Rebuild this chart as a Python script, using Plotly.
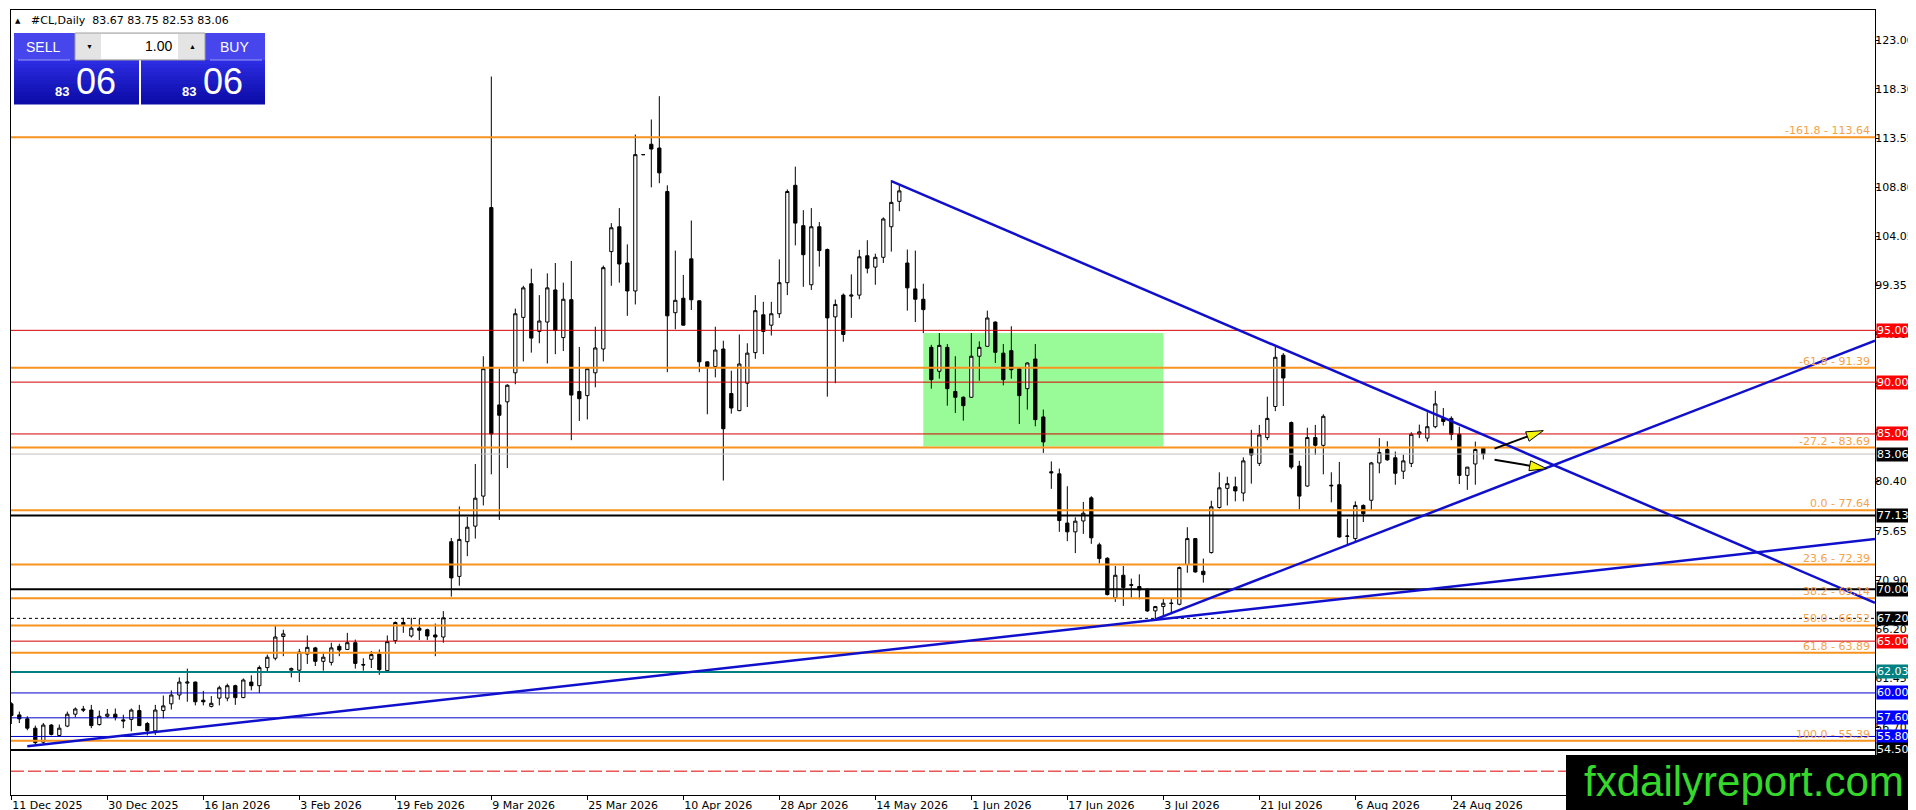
import plotly.graph_objects as go

W, H = 1916, 810
ML, MR, MT, MB = 3, 49, 2, 23
PW, PH = W - ML - MR, H - MT - MB

symbol = "#CL,Daily"

opens = [58.95, 57.88, 57.5, 56.6, 55.25, 56.9, 55.9, 56.8, 57.95, 58.45,
         58.35, 56.95, 57.75, 57.95, 57.4, 57.45, 58.3, 57.05, 56.35, 58.3,
         58.95, 59.8, 60.95, 61.05, 59.3, 58.7, 59.5, 59.5, 60.7, 59.55,
         61.05, 60.7, 62.45, 63.35, 65.45, 62.2, 62.2, 63.75, 64.35, 63.05,
         62.95, 64.5, 64.2, 64.85, 62.75, 63.25, 63.75, 62.15, 65.05, 66.8,
         65.5, 66.25, 66.1, 65.6, 65.4, 74.6, 71.25, 74.6, 76.1, 79.0,
         106.85, 87.8, 88.1, 90.9, 96.25, 99.5, 94.9, 95.8, 98.9, 94.3,
         97.96, 89.1, 88.7, 90.9, 93.2, 102.6, 105.0, 101.5, 98.8, 111.96,
         112.96, 112.6, 108.4, 96.7, 98.1, 101.9, 97.85, 91.96, 91.5, 93.2,
         88.9, 87.25, 89.9, 92.85, 96.5, 95.5, 96.6, 99.6, 109.0, 105.1,
         99.4, 105.0, 102.8, 96.3, 98.4, 98.3, 98.4, 102.2, 101.1, 102.05,
         105.0, 107.45, 101.5, 99.0, 98.0, 93.36, 91.05, 93.36, 89.1, 88.54,
         88.54, 92.5, 93.46, 95.8, 92.8, 93.04, 91.3, 89.37, 92.23, 86.64,
         81.35, 81.15, 76.4, 75.55, 76.6, 78.83, 74.3, 73.0, 69.2, 71.36,
         70.45, 70.27, 70.01, 67.92, 68.34, 68.63, 68.56, 72.4, 74.9, 71.75,
         73.55, 77.9, 79.75, 79.9, 79.3, 83.6, 82.16, 84.65, 87.65, 92.6,
         86.1, 81.9, 79.97, 84.65, 83.9, 80.05, 80.1, 75.1, 74.9, 78.1,
         78.6, 82.2, 83.5, 82.7, 81.4, 82.16, 85.0, 84.6, 85.7, 86.5,
         86.5, 84.97, 81.0, 82.1, 83.67]
highs = [59.1, 58.2, 57.75, 56.85, 57.1, 57.0, 56.95, 58.2, 58.6, 58.75,
         58.85, 58.3, 58.45, 58.5, 57.9, 58.5, 58.85, 57.2, 58.85, 59.75,
         60.25, 61.5, 62.35, 61.1, 60.2, 59.7, 60.7, 60.9, 60.8, 61.4,
         61.7, 62.65, 63.7, 66.45, 66.1, 62.45, 64.25, 65.55, 64.45, 63.8,
         64.85, 64.75, 65.8, 65.15, 63.35, 64.05, 64.2, 65.55, 66.9, 67.25,
         67.25, 67.15, 66.2, 66.7, 67.9, 74.96, 78.0, 77.0, 82.1, 92.5,
         119.5, 91.3, 89.8, 97.1, 99.3, 100.95, 98.4, 100.5, 101.5, 99.6,
         101.7, 93.4, 91.4, 95.35, 101.25, 105.35, 106.8, 103.3, 113.9, 111.96,
         115.35, 117.6, 109.0, 102.7, 100.35, 105.6, 97.9, 92.0, 95.35, 94.0,
         91.1, 94.6, 93.75, 98.4, 97.75, 97.75, 101.85, 108.6, 110.8, 106.6,
         106.8, 105.45, 102.9, 97.98, 98.56, 100.4, 102.77, 103.7, 102.4, 105.9,
         109.5, 109.0, 102.8, 102.7, 99.5, 93.6, 94.74, 93.68, 92.5, 88.63,
         94.74, 93.94, 96.9, 95.87, 93.68, 95.39, 91.35, 91.9, 93.68, 87.35,
         82.35, 81.66, 79.95, 76.96, 78.44, 78.99, 74.5, 73.1, 72.26, 72.26,
         71.04, 71.45, 70.07, 68.4, 69.1, 69.1, 72.2, 76.0, 74.95, 72.97,
         78.55, 81.3, 80.87, 80.87, 82.74, 85.4, 85.87, 88.6, 93.45, 92.8,
         86.2, 82.4, 85.6, 85.87, 86.9, 81.3, 82.3, 76.8, 78.5, 78.2,
         82.3, 84.6, 84.3, 83.3, 83.0, 85.16, 85.9, 87.1, 89.16, 87.5,
         86.7, 85.7, 81.8, 84.26, 83.75]
lows = [57.0, 57.1, 56.4, 55.0, 55.05, 55.9, 55.8, 56.7, 57.65, 58.15,
        56.6, 56.85, 57.6, 57.35, 56.6, 56.3, 56.8, 55.9, 55.95, 57.55,
        58.4, 59.35, 59.15, 58.8, 58.8, 58.6, 58.8, 59.2, 58.85, 59.5,
        60.25, 60.0, 62.0, 63.15, 63.55, 61.5, 61.05, 62.8, 62.6, 62.15,
        62.65, 63.55, 64.15, 62.35, 62.15, 62.4, 61.75, 62.05, 64.75, 65.8,
        65.35, 65.1, 65.1, 63.55, 64.85, 69.3, 70.35, 73.2, 74.9, 78.1,
        81.1, 76.7, 81.7, 89.8, 92.0, 92.85, 93.75, 91.8, 92.7, 93.0,
        84.4, 86.25, 86.4, 89.5, 92.0, 99.3, 99.6, 96.4, 97.5, 111.96,
        108.8, 109.2, 90.96, 95.1, 95.45, 96.96, 90.96, 86.9, 90.46, 80.5,
        86.96, 87.2, 87.6, 92.25, 92.7, 94.5, 96.2, 98.4, 103.2, 99.2,
        98.9, 101.15, 88.6, 89.9, 93.9, 96.2, 98.0, 100.5, 99.4, 101.5,
        102.6, 106.5, 96.9, 95.8, 94.74, 89.37, 90.34, 87.73, 87.03, 86.29,
        88.47, 90.14, 93.46, 91.85, 89.69, 90.34, 85.96, 87.35, 85.74, 83.17,
        79.7, 75.55, 74.65, 73.5, 75.35, 74.39, 72.5, 69.4, 68.79, 68.4,
        69.2, 69.04, 67.82, 67.1, 67.43, 67.6, 68.46, 71.6, 71.6, 70.65,
        73.45, 77.8, 78.1, 78.5, 78.5, 80.2, 81.9, 84.4, 87.2, 87.7,
        81.6, 77.7, 79.9, 82.97, 81.1, 78.4, 75.0, 74.2, 74.6, 76.5,
        77.6, 81.2, 82.4, 80.1, 80.65, 81.8, 84.6, 84.26, 85.55, 85.8,
        84.4, 80.16, 79.6, 80.1, 82.53]
closes = [57.82, 57.5, 56.6, 55.2, 56.9, 56.0, 56.6, 57.95, 58.45, 58.35,
          56.85, 57.75, 57.95, 57.65, 57.3, 58.35, 56.85, 56.35, 58.35, 58.75,
          59.8, 61.05, 61.05, 59.15, 59.15, 59.0, 60.5, 60.7, 59.55, 61.25,
          60.7, 62.45, 63.45, 65.4, 65.7, 62.35, 63.95, 64.4, 63.05, 63.45,
          64.35, 64.15, 64.85, 62.85, 62.7, 63.7, 62.25, 64.95, 66.8, 66.6,
          66.25, 66.05, 65.5, 65.4, 67.25, 71.1, 74.82, 76.0, 78.8, 91.3,
          85.0, 86.8, 89.7, 96.6, 99.1, 94.25, 95.9, 99.1, 95.0, 98.0,
          88.75, 88.4, 91.3, 93.3, 101.05, 104.9, 101.4, 98.8, 111.96, 111.96,
          112.5, 110.2, 96.4, 97.9, 95.5, 97.95, 91.96, 91.5, 93.1, 85.5,
          87.5, 91.75, 92.8, 96.9, 94.9, 96.6, 99.6, 108.4, 105.35, 102.3,
          105.0, 102.7, 96.2, 97.5, 94.6, 98.4, 102.1, 101.0, 102.05, 105.75,
          107.35, 108.46, 99.1, 98.0, 97.0, 90.24, 93.55, 89.37, 88.54, 87.73,
          92.5, 93.36, 96.19, 92.88, 90.24, 91.2, 88.7, 91.85, 86.38, 84.23,
          81.25, 76.64, 75.55, 76.58, 77.35, 74.97, 72.97, 69.5, 71.36, 70.17,
          70.4, 69.95, 67.92, 68.34, 68.66, 68.66, 72.1, 74.9, 71.68, 71.42,
          77.97, 79.8, 80.2, 79.5, 82.4, 82.97, 84.9, 86.5, 92.4, 90.4,
          81.8, 79.0, 84.65, 83.9, 86.7, 80.0, 75.05, 75.15, 78.1, 77.3,
          82.2, 83.2, 82.5, 81.2, 82.4, 84.97, 85.2, 85.7, 87.9, 86.2,
          84.97, 81.0, 81.8, 83.5, 83.06]

tick_dates = ["11 Dec 2025", "30 Dec 2025", "16 Jan 2026", "3 Feb 2026",
              "19 Feb 2026", "9 Mar 2026", "25 Mar 2026", "10 Apr 2026",
              "28 Apr 2026", "14 May 2026", "1 Jun 2026", "17 Jun 2026",
              "3 Jul 2026", "21 Jul 2026", "6 Aug 2026", "24 Aug 2026"]
bars_per_label = 12

price_ticks = [123.00, 118.30, 113.55, 108.80, 104.05, 99.35, 94.60, 89.85,
               85.15, 80.40, 75.65, 70.90, 66.20, 61.45, 56.70, 51.95]

fib_names = ["-161.8", "-61.8", "-27.2", "0.0", "23.6", "38.2", "50.0", "61.8", "100.0"]
fib_levels = [113.64, 91.39, 83.69, 77.64, 72.39, 69.14, 66.52, 63.89, 55.39]

level_prices = [95.00, 90.00, 85.00, 83.06, 77.13, 70.00, 67.20, 65.00,
                62.03, 60.00, 57.60, 55.80, 54.50]
level_kinds = ["red", "red", "red", "bid", "black", "black", "dotted", "red",
               "teal", "blue", "blue", "blue", "black"]
stop_level = 52.45

# trend lines: start (bar, price) and price where they meet the right edge
trend_start_bar = [110, 2, 143]
trend_start_price = [109.4, 54.85, 67.1]
trend_end_price = [68.7, 74.85, 94.0]

zone_bars = [114, 144]
zone_prices = [83.8, 94.75]

arrow_from_bar = [185.4, 185.4]
arrow_from_price = [83.58, 82.52]
arrow_to_bar = [191.5, 191.9]
arrow_to_price = [85.32, 81.65]

XR = [-0.04, 232.96]
YR = [50.15, 125.92]

level_style = {
    "red":    dict(line="#d40000", width=1, dash="solid", box="#ff0000"),
    "bid":    dict(line="#c0c0c0", width=1, dash="solid", box="#000000"),
    "black":  dict(line="#000000", width=2, dash="solid", box="#000000"),
    "dotted": dict(line="#000000", width=1, dash="3px,3px", box="#000000"),
    "teal":   dict(line="#008080", width=2, dash="solid", box="#008080"),
    "blue":   dict(line="#0000c8", width=1, dash="solid", box="#0000ff"),
}
FIB_LINE = "#f7931e"
FIB_TEXT = "#f4a24a"
TREND = "#1010cc"
FONT = "DejaVu Sans, Verdana, sans-serif"

n_bars = len(opens)
bars = list(range(n_bars))


def px(x, y):
    return (x - ML) / PW, 1 - (y - MT) / PH


fig = go.Figure()
fig.add_trace(go.Candlestick(
    x=bars, open=opens, high=highs, low=lows, close=closes,
    increasing=dict(line=dict(color="black", width=1), fillcolor="white"),
    decreasing=dict(line=dict(color="black", width=1), fillcolor="black"),
    whiskerwidth=0, hoverinfo="skip",
))

shapes = []
annotations = []

# green zone (background)
shapes.append(dict(type="rect", xref="x", yref="y", layer="below",
                   x0=zone_bars[0], x1=zone_bars[1], y0=zone_prices[0], y1=zone_prices[1],
                   fillcolor="#98fb98", line=dict(width=0)))

# fibonacci levels
for name, lv in zip(fib_names, fib_levels):
    shapes.append(dict(type="line", xref="paper", yref="y", x0=0, x1=1, y0=lv, y1=lv,
                       line=dict(color=FIB_LINE, width=2)))
    annotations.append(dict(xref="paper", yref="y", x=1, y=lv, xanchor="right", yanchor="bottom",
                            xshift=-3, yshift=-2, showarrow=False, text=f"{name} - {lv:.2f}",
                            font=dict(family=FONT, size=11, color=FIB_TEXT)))

# horizontal levels
for lv, kind in zip(level_prices, level_kinds):
    st = level_style[kind]
    shapes.append(dict(type="line", xref="paper", yref="y", x0=0, x1=1, y0=lv, y1=lv,
                       line=dict(color=st["line"], width=st["width"], dash=st["dash"])))
shapes.append(dict(type="line", xref="paper", yref="y", x0=0, x1=1, y0=stop_level, y1=stop_level,
                   line=dict(color="#e00000", width=1, dash="13px,4px")))

# trend lines
for b0, p0, p1 in zip(trend_start_bar, trend_start_price, trend_end_price):
    shapes.append(dict(type="line", xref="x", yref="y", x0=b0, y0=p0, x1=XR[1], y1=p1,
                       line=dict(color=TREND, width=2.5)))

# arrows: black shaft, yellow head
ppb = PW / (XR[1] - XR[0])
ppp = PH / (YR[1] - YR[0])
for bx0, py0, bx1, py1 in zip(arrow_from_bar, arrow_from_price, arrow_to_bar, arrow_to_price):
    dx = (bx1 - bx0) * ppb
    dy = (py1 - py0) * ppp
    ln = (dx * dx + dy * dy) ** 0.5
    ux, uy = dx / ln, dy / ln
    hl, hw = 17, 5
    bxp = bx1 - ux * hl / ppb
    byp = py1 - uy * hl / ppp
    lx, ly = bxp - uy * hw / ppb, byp + ux * hw / ppp
    rx, ry = bxp + uy * hw / ppb, byp - ux * hw / ppp
    shapes.append(dict(type="line", xref="x", yref="y", x0=bx0, y0=py0, x1=bxp, y1=byp,
                       line=dict(color="black", width=2)))
    shapes.append(dict(type="path", xref="x", yref="y",
                       path=f"M {bx1},{py1} L {lx},{ly} L {rx},{ry} Z",
                       fillcolor="#f5f50a", line=dict(color="black", width=1)))

# right price boxes
for lv, kind in zip(level_prices, level_kinds):
    annotations.append(dict(xref="paper", yref="y", x=1, y=lv, xanchor="left", yanchor="middle",
                            xshift=1, showarrow=False, text=f"{lv:.2f}", width=40, height=13,
                            align="left", bgcolor=level_style[kind]["box"], borderpad=0,
                            font=dict(family=FONT, size=11, color="white")))

# header
x0, y0 = px(5, 13)
annotations.append(dict(xref="paper", yref="paper", x=x0, y=y0, xanchor="left", yanchor="middle",
                        showarrow=False, text="▲", font=dict(family=FONT, size=7, color="black")))
x0, y0 = px(21, 13)
annotations.append(dict(xref="paper", yref="paper", x=x0, y=y0, xanchor="left", yanchor="middle",
                        showarrow=False,
                        text=f"{symbol}  {opens[-1]:.2f} {highs[-1]:.2f} {lows[-1]:.2f} {closes[-1]:.2f}",
                        font=dict(family=FONT, size=11, color="black")))


# one-click trading panel
def rect(xa, ya, xb, yb, fill, lc=None, lw=0):
    a, b = px(xa, ya)
    c, d = px(xb, yb)
    shapes.append(dict(type="rect", xref="paper", yref="paper", x0=a, y0=b, x1=c, y1=d,
                       fillcolor=fill, line=dict(color=lc or fill, width=lw)))


def label(x, y, text, size, color, anchor="center", family="Liberation Sans, Arial, sans-serif"):
    a, b = px(x, y)
    annotations.append(dict(xref="paper", yref="paper", x=a, y=b, xanchor=anchor, yanchor="middle",
                            showarrow=False, text=text, font=dict(family=family, size=size, color=color)))


grad_top = (44, 44, 226)
grad_bot = (12, 12, 168)
for bx0, bx1 in [(6, 131), (133, 257)]:
    rect(bx0, 25, bx1, 52, "#4646ec")
    steps = 11
    for i in range(steps):
        t = i / (steps - 1)
        c = tuple(int(grad_top[k] + (grad_bot[k] - grad_top[k]) * t) for k in range(3))
        ya = 52 + (96 - 52) * i / steps
        yb = 52 + (96 - 52) * (i + 1) / steps + 0.6
        rect(bx0, ya, bx1, yb, "rgb(%d,%d,%d)" % c)
rect(10, 51.5, 62, 52.5, "#9a9af5")
rect(202, 51.5, 254, 52.5, "#9a9af5")
rect(67, 25, 197, 52, "#e4e4e4", "#a0a0a0", 1)
rect(93, 26, 170, 51, "#ffffff")
label(35, 39, "SELL", 14, "white")
label(226, 39, "BUY", 14, "white")
label(166, 38, "1.00", 14, "black", anchor="right")
label(81, 39, "▼", 7, "black")
label(184, 39, "▲", 7, "black")
for bx in [0, 127]:
    label(54 + bx, 84, "<b>83</b>", 13, "white")
    label(88 + bx, 74, "06", 36, "white")

# watermark
rect(1558, 747, 1916, 810, "#000000")
label(1736, 773, "fxdailyreport.com", 42, "#36d92b")

tickvals = [i * bars_per_label for i in range(len(tick_dates))]

fig.update_layout(
    width=W, height=H,
    margin=dict(l=ML, r=MR, t=MT, b=MB, autoexpand=False),
    paper_bgcolor="white", plot_bgcolor="white",
    showlegend=False, boxgap=0.42,
    shapes=shapes, annotations=annotations,
    xaxis=dict(range=XR, tickvals=tickvals, ticktext=tick_dates, ticks="outside", ticklen=4,
               tickcolor="black", ticklabelposition="outside right", showline=True, mirror=True,
               linecolor="black", linewidth=1, showgrid=False, zeroline=False,
               rangeslider=dict(visible=False), fixedrange=True,
               tickfont=dict(family=FONT, size=11, color="black")),
    yaxis=dict(range=YR, side="right", tickvals=price_ticks,
               ticktext=[f"{v:.2f}" for v in price_ticks], ticks="outside", ticklen=3,
               ticklabelstandoff=-6,
               tickcolor="black", showline=True, mirror=True, linecolor="black", linewidth=1,
               showgrid=False, zeroline=False, fixedrange=True,
               tickfont=dict(family=FONT, size=11, color="black")),
)

fig.write_html("out.html")
